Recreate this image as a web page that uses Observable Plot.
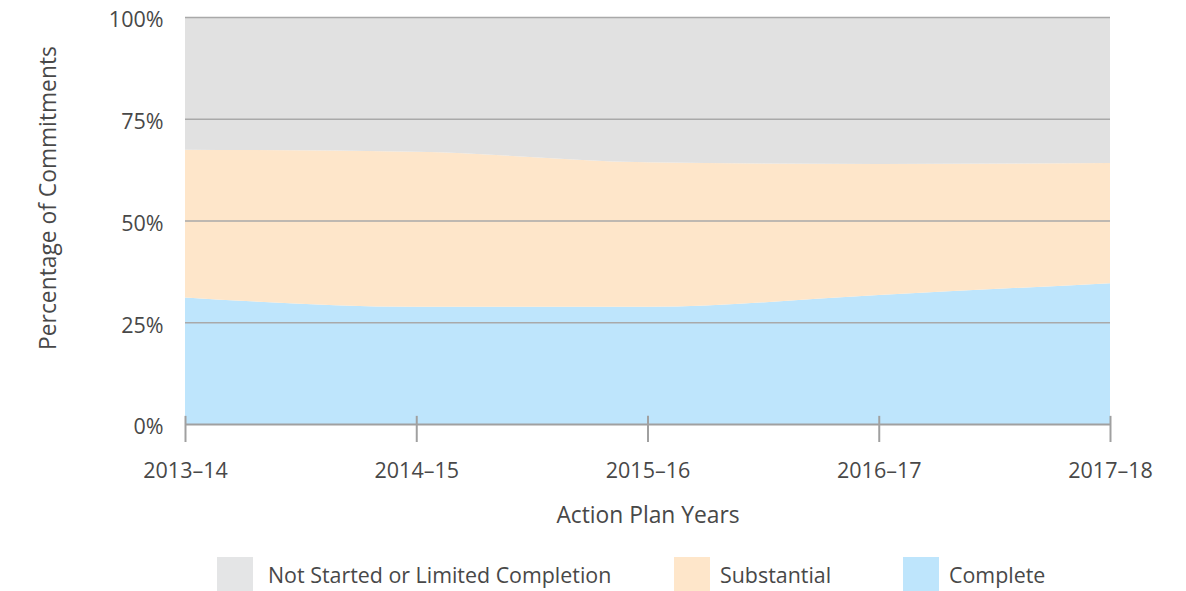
<!DOCTYPE html>
<html>
<head>
<meta charset="utf-8">
<script src="https://cdn.jsdelivr.net/npm/d3@7"></script>
<script src="https://cdn.jsdelivr.net/npm/@observablehq/plot@0.6"></script>
<style>
  html, body { margin: 0; padding: 0; background: #fff; }
  body { width: 1186px; height: 591px; overflow: hidden; font-family: "Open Sans", Lato, sans-serif; color: #484848; }
  #legend { display: flex; align-items: center; height: 35px; margin-top: 9px; padding-left: 217px; font-size: 21.4px; color: #484848; }
  .item { display: flex; align-items: center; }
  .sw { width: 36px; height: 35px; flex: none; }
</style>
</head>
<body>
<div id="chart"></div>
<div id="legend"></div>
<script>
const years = ["2013–14", "2014–15", "2015–16", "2016–17", "2017–18"];
const complete = [31.1, 28.8, 28.8, 31.7, 34.6];
const substantial = [36.3, 38.1, 35.5, 32.2, 29.5];
const notStarted = [32.6, 33.1, 35.7, 36.1, 35.9];
const seriesNames = ["Complete", "Substantial", "Not Started or Limited Completion"];
const seriesColors = ["#bee5fc", "#fee6ca", "#e1e1e1"];
const legendNames = ["Not Started or Limited Completion", "Substantial", "Complete"];
const legendColors = ["#e4e5e6", "#fee6ca", "#bee5fc"];
const yTicks = [0, 0.25, 0.5, 0.75, 1];

const seriesValues = [complete, substantial, notStarted];
const data = [];
seriesNames.forEach((s, si) => {
  years.forEach((y, i) => data.push({ i, year: y, series: s, value: seriesValues[si][i] / 100 }));
});

const FONT = "'Open Sans', Lato, sans-serif";
const TXT = "#484848";
const chart = Plot.plot({
  width: 1186,
  height: 548,
  marginTop: 17,
  marginBottom: 124,
  marginLeft: 185,
  marginRight: 76,
  style: { fontFamily: FONT, fontSize: "21px", color: TXT, background: "#fff" },
  x: { domain: [0, years.length - 1] },
  y: { domain: [0, 1] },
  color: { domain: seriesNames, range: seriesColors },
  marks: [
    Plot.areaY(data, Plot.stackY({
      x: "i", y: "value", z: "series", fill: "series",
      order: seriesNames, curve: "monotone-x"
    })),
    Plot.ruleY(yTicks.slice(1), { stroke: "#a9a9a9", strokeWidth: 1.5 }),
    Plot.ruleY([0], { stroke: "#a0a0a0", strokeWidth: 2 }),
    Plot.ruleX(d3.range(years.length), { y1: 0, y2: 0.02, stroke: "#a0a0a0", strokeWidth: 2 }),
    Plot.axisX({
      ticks: d3.range(years.length),
      tickFormat: i => years[i],
      tickSize: 18, tickPadding: 20, stroke: "#a0a0a0", strokeWidth: 2,
      fill: TXT, fontSize: 21.5, label: null
    }),
    Plot.axisY({
      ticks: yTicks, tickFormat: d3.format(".0%"),
      tickSize: 0, tickPadding: 22, dy: 3, fill: TXT, fontSize: 21.5, label: null
    }),
    Plot.text(["Percentage of Commitments"], {
      frameAnchor: "left", textAnchor: "middle", dx: -137, dy: -23, rotate: -90,
      fill: TXT, fontSize: 22.8
    }),
    Plot.text(["Action Plan Years"], {
      frameAnchor: "bottom", textAnchor: "middle", dy: 98, fill: TXT, fontSize: 22.8
    })
  ]
});
document.getElementById("chart").appendChild(chart);

const itemWidths = [457, 229, 200];
const swatchGaps = [15, 10, 10];
const legend = document.getElementById("legend");
legendNames.forEach((n, k) => {
  const it = document.createElement("div");
  it.className = "item";
  it.style.width = itemWidths[k] + "px";
  it.innerHTML = `<div class="sw" style="background:${legendColors[k]};margin-right:${swatchGaps[k]}px"></div><span>${n}</span>`;
  legend.appendChild(it);
});
</script>
</body>
</html>
